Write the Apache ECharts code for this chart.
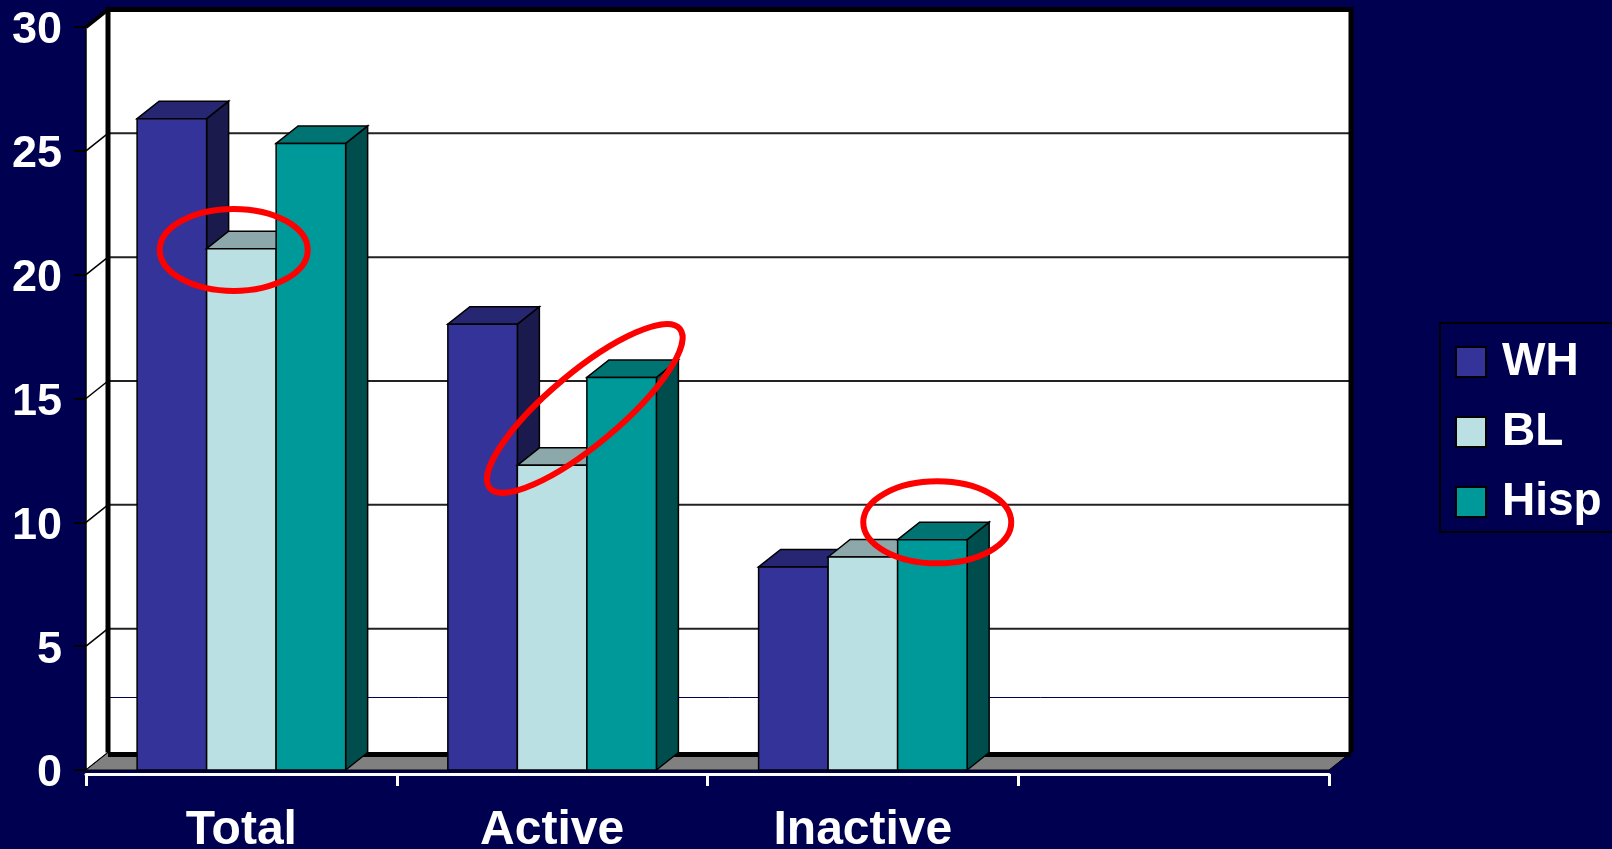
<!DOCTYPE html>
<html lang="en" style="height: 100%">
<head>
  <meta charset="utf-8">
</head>
<body style="height: 100%; margin: 0; background: #000050">
  <div id="container" style="height: 100%"></div>

  <script type="text/javascript" src="https://fastly.jsdelivr.net/npm/echarts@6/dist/echarts.min.js"></script>

  <script type="text/javascript">
    var categories = ['Total', 'Active', 'Inactive', ''];
    var seriesNames = ['WH', 'BL', 'Hisp'];
    var whValues = [26.3, 18.0, 8.2];
    var blValues = [21.05, 12.3, 8.6];
    var hispValues = [25.3, 15.85, 9.3];
    var yTicks = [5, 10, 15, 20, 25];
    // red rings on the slide: [category, bar slot, value, rx, ry, angle deg]
    var rings = [
      [0, 0.89, 21.0, 74, 41, 0],
      [1, 1.47, 14.6, 124, 36, 40],
      [2, 2.07, 10.0, 74, 41, 0]
    ];
    var strayLine = 2.25; // thin navy line on the back wall

    var DX = 22, DY = -17.5;      // depth of the 3d box
    var BAR_RATIO = 0.2237;       // bar width / category width

    var faces = [
      ['#333399', '#262673', '#1a1a4d'],
      ['#bbe0e3', '#8ca8aa', '#5e7072'],
      ['#009999', '#007373', '#004d4d']
    ];

    var dom = document.getElementById('container');
    var myChart = echarts.init(dom, null, { renderer: 'canvas' });

    function toData(arr) {
      return arr.map(function (v, i) { return [i, v]; });
    }

    function wallsItem(params, api) {
      var cs = params.coordSys;
      var x0 = cs.x, x1 = cs.x + cs.width;
      var yb = api.coord([0, 0])[1];
      var yt = api.coord([0, 30])[1];
      var kids = [];
      // back wall
      kids.push({ type: 'rect', shape: { x: x0 + DX, y: yt + DY, width: x1 - x0, height: yb - yt },
        style: { fill: '#fff', stroke: null } });
      // left wall
      kids.push({ type: 'polygon', shape: { points: [[x0, yt], [x0 + DX, yt + DY], [x0 + DX, yb + DY], [x0, yb]] },
        style: { fill: '#fff', stroke: '#000', lineWidth: 1.5 } });
      yTicks.forEach(function (t) {
        var y = api.coord([0, t])[1];
        kids.push({ type: 'line', shape: { x1: x0 + DX, y1: y + DY, x2: x1 + DX, y2: y + DY },
          style: { stroke: '#222', lineWidth: 2 } });
        kids.push({ type: 'line', shape: { x1: x0, y1: y, x2: x0 + DX, y2: y + DY },
          style: { stroke: '#000', lineWidth: 1.5 } });
      });
      var ys = Math.round(api.coord([0, strayLine])[1] + DY) + 0.5;
      kids.push({ type: 'line', shape: { x1: x0 + DX, y1: ys, x2: x1 + DX, y2: ys },
        style: { stroke: '#000050', lineWidth: 1 } });
      // floor
      kids.push({ type: 'polygon', shape: { points: [[x0, yb], [x0 + DX, yb + DY], [x1 + DX, yb + DY], [x1, yb]] },
        style: { fill: '#808080', stroke: '#000', lineWidth: 1 } });
      // heavy frame of the back wall
      kids.push({ type: 'polyline', shape: { points: [[x0 + DX, yb + DY], [x0 + DX, yt + DY], [x1 + DX, yt + DY], [x1 + DX, yb + DY]] },
        style: { fill: null, stroke: '#000', lineWidth: 5 } });
      kids.push({ type: 'line', shape: { x1: x0 + DX, y1: yb + DY + 2, x2: x1 + DX, y2: yb + DY + 2 },
        style: { stroke: '#000', lineWidth: 5 } });
      kids.push({ type: 'line', shape: { x1: x0, y1: yt, x2: x0 + DX, y2: yt + DY },
        style: { stroke: '#000', lineWidth: 4 } });
      return { type: 'group', children: kids };
    }

    function barItem(slot) {
      var c = faces[slot];
      return function (params, api) {
        var cat = api.value(0), val = api.value(1);
        var base = api.coord([cat, 0]);
        var top = api.coord([cat, val]);
        var bw = api.size([1, 0])[0] * BAR_RATIO;
        var xa = base[0] + (slot - 1.5) * bw, xb = xa + bw;
        var ya = top[1], yb = base[1];
        return {
          type: 'group',
          children: [
            { type: 'polygon', shape: { points: [[xb, ya], [xb + DX, ya + DY], [xb + DX, yb + DY], [xb, yb]] },
              style: { fill: c[2], stroke: '#000', lineWidth: 1.5 } },
            { type: 'polygon', shape: { points: [[xa, ya], [xa + DX, ya + DY], [xb + DX, ya + DY], [xb, ya]] },
              style: { fill: c[1], stroke: '#000', lineWidth: 1.5 } },
            { type: 'rect', shape: { x: xa, y: ya, width: bw, height: yb - ya },
              style: { fill: c[0], stroke: '#000', lineWidth: 1.5 } }
          ]
        };
      };
    }

    var option = {
      backgroundColor: '#000050',
      animation: false,
      textStyle: { fontFamily: 'Liberation Sans' },
      grid: { left: 86, right: 283, top: 27, bottom: 79, outerBoundsMode: 'none', containLabel: false },
      legend: {
        data: seriesNames,
        orient: 'vertical',
        left: 1440,
        top: 323,
        padding: [16, 80, 7, 15],
        itemWidth: 30,
        itemHeight: 30,
        itemGap: 24,
        icon: 'rect',
        borderColor: '#000',
        borderWidth: 2,
        itemStyle: { borderColor: '#000', borderWidth: 2 },
        textStyle: { color: '#fff', fontSize: 46, fontWeight: 'bold', padding: [0, 0, 0, 11] }
      },
      xAxis: {
        type: 'category',
        data: categories,
        z: 10,
        offset: 4,
        axisLine: { onZero: false, lineStyle: { color: '#fff', width: 3 } },
        axisTick: { show: true, alignWithLabel: false, interval: 0, length: 12, lineStyle: { color: '#fff', width: 3 } },
        axisLabel: { color: '#fff', fontSize: 48, fontWeight: 'bold', margin: 33 },
        splitLine: { show: false }
      },
      yAxis: {
        type: 'value',
        min: 0,
        max: 30,
        interval: 5,
        axisLine: { show: false },
        axisTick: { show: true, length: 12, lineStyle: { color: '#000', width: 2 } },
        axisLabel: { color: '#fff', fontSize: 45, fontWeight: 'bold', margin: 24, verticalAlign: 'top', lineHeight: 8 },
        splitLine: { show: false }
      },
      series: [
        { type: 'custom', name: 'walls', silent: true, data: [[0, 0]], renderItem: wallsItem },
        { type: 'custom', name: 'WH', itemStyle: { color: faces[0][0] }, data: toData(whValues), renderItem: barItem(0) },
        { type: 'custom', name: 'BL', itemStyle: { color: faces[1][0] }, data: toData(blValues), renderItem: barItem(1) },
        { type: 'custom', name: 'Hisp', itemStyle: { color: faces[2][0] }, data: toData(hispValues), renderItem: barItem(2) }
      ]
    };

    myChart.setOption(option);

    // place the red rings relative to the bars
    var p0 = myChart.convertToPixel({ gridIndex: 0 }, [0, 0]);
    var p1 = myChart.convertToPixel({ gridIndex: 0 }, [1, 0]);
    var barW = (p1[0] - p0[0]) * BAR_RATIO;
    myChart.setOption({
      graphic: rings.map(function (r) {
        var p = myChart.convertToPixel({ gridIndex: 0 }, [r[0], r[2]]);
        return {
          type: 'ellipse',
          x: p[0] + (r[1] - 1) * barW,
          y: p[1],
          rotation: r[5] * Math.PI / 180,
          z: 100,
          shape: { cx: 0, cy: 0, rx: r[3], ry: r[4] },
          style: { fill: null, stroke: '#ff0000', lineWidth: 6 }
        };
      })
    });

    window.addEventListener('resize', myChart.resize);
  </script>
</body>
</html>
